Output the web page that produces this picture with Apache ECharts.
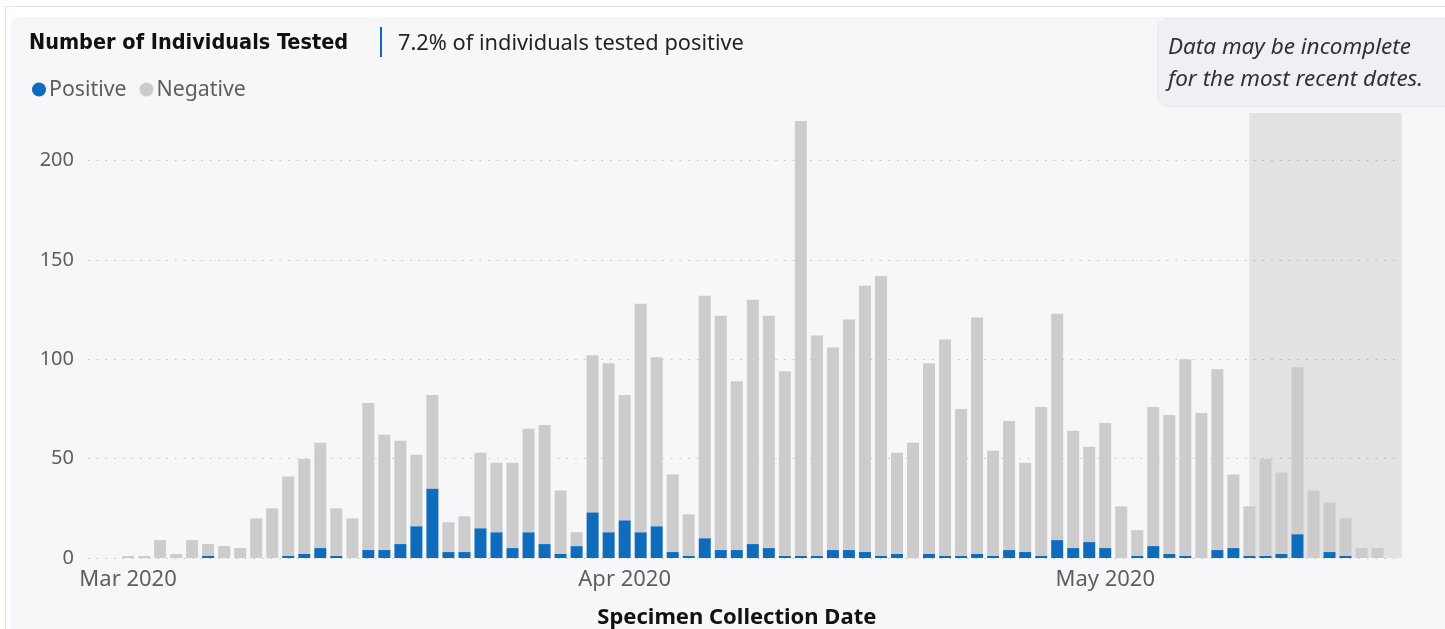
<!DOCTYPE html>
<html>
<head>
<meta charset="utf-8">
<script src="https://cdn.jsdelivr.net/npm/echarts@6/dist/echarts.min.js"></script>
<style>
  html, body { margin: 0; padding: 0; background: #ffffff; width: 1445px; height: 629px; overflow: hidden; }
  #frame { position: absolute; left: 5px; top: 6px; width: 1440px; height: 623px; border-left: 1px solid #e2e5ee; border-top: 1px solid #dfe3ee; }
  #panel { position: absolute; left: 11px; top: 17px; width: 1440px; height: 620px; background: #f7f7f9; border-radius: 8px; }
  #chart { position: absolute; left: 0; top: 0; width: 1445px; height: 629px; }
</style>
</head>
<body>
<div id="frame"></div>
<div id="panel"></div>
<div id="chart"></div>
<script>
// ---- data ----
const dates = [
  '2020-02-28','2020-02-29',
  '2020-03-01','2020-03-02','2020-03-03','2020-03-04','2020-03-05','2020-03-06','2020-03-07','2020-03-08','2020-03-09','2020-03-10',
  '2020-03-11','2020-03-12','2020-03-13','2020-03-14','2020-03-15','2020-03-16','2020-03-17','2020-03-18','2020-03-19','2020-03-20',
  '2020-03-21','2020-03-22','2020-03-23','2020-03-24','2020-03-25','2020-03-26','2020-03-27','2020-03-28','2020-03-29','2020-03-30','2020-03-31',
  '2020-04-01','2020-04-02','2020-04-03','2020-04-04','2020-04-05','2020-04-06','2020-04-07','2020-04-08','2020-04-09','2020-04-10',
  '2020-04-11','2020-04-12','2020-04-13','2020-04-14','2020-04-15','2020-04-16','2020-04-17','2020-04-18','2020-04-19','2020-04-20',
  '2020-04-21','2020-04-22','2020-04-23','2020-04-24','2020-04-25','2020-04-26','2020-04-27','2020-04-28','2020-04-29','2020-04-30',
  '2020-05-01','2020-05-02','2020-05-03','2020-05-04','2020-05-05','2020-05-06','2020-05-07','2020-05-08','2020-05-09','2020-05-10',
  '2020-05-11','2020-05-12','2020-05-13','2020-05-14','2020-05-15','2020-05-16','2020-05-17','2020-05-18','2020-05-19'
];
const positive = [
  null, null,
  0, 0, 0, 0, 0, 1, 0, 0, 0, 0,
  1, 2, 5, 1, 0, 4, 4, 7, 16, 35,
  3, 3, 15, 13, 5, 13, 7, 2, 6, 23, 13,
  19, 13, 16, 3, 1, 10, 4, 4, 7, 5,
  1, 1, 1, 4, 4, 3, 1, 2, 0, 2,
  1, 1, 2, 1, 4, 3, 1, 9, 5, 8,
  5, 0, 1, 6, 2, 1, 0, 4, 5, 1,
  1, 2, 12, 0, 3, 1, 0, 0, null
];
const negative = [
  null, null,
  1, 1, 9, 2, 9, 6, 6, 5, 20, 25,
  40, 48, 53, 24, 20, 74, 58, 52, 36, 47,
  15, 18, 38, 35, 43, 52, 60, 32, 7, 79, 85,
  63, 115, 85, 39, 21, 122, 118, 85, 123, 117,
  93, 219, 111, 102, 116, 134, 141, 51, 58, 96,
  109, 74, 119, 53, 65, 45, 75, 114, 59, 48,
  63, 26, 13, 70, 70, 99, 73, 91, 37, 25,
  49, 41, 84, 34, 25, 19, 5, 5, null
];
const yTicks = [0, 50, 100, 150, 200];
const monthNames = ['Jan','Feb','Mar','Apr','May','Jun','Jul','Aug','Sep','Oct','Nov','Dec'];
const incompleteFrom = '2020-05-10';
const titleText = 'Number of Individuals Tested';
const subtitleText = '7.2% of individuals tested positive';
const noteText = 'Data may be incomplete\nfor the most recent dates.';
const xAxisTitle = 'Specimen Collection Date';

const FONT = '"Noto Sans", "Open Sans", sans-serif';
const chart = echarts.init(document.getElementById('chart'), null, { renderer: 'canvas' });

const option = {
  backgroundColor: 'transparent',
  animation: false,
  textStyle: { fontFamily: FONT },
  title: [
    { text: titleText, left: 24, top: 27,
      textStyle: { fontFamily: '"DejaVu Sans Condensed", Roboto, sans-serif', fontWeight: 'bold', fontSize: 21.5, color: '#111111' } },
    { text: subtitleText, left: 393, top: 28,
      textStyle: { fontFamily: FONT, fontWeight: 'normal', fontSize: 21.8, color: '#252423' } }
  ],
  legend: {
    left: 27, top: 74, icon: 'circle', itemWidth: 14, itemHeight: 14, itemGap: 13,
    textStyle: { fontFamily: FONT, fontSize: 21.3, color: '#605e5c', padding: [0, 0, 0, -2] },
    data: ['Positive', 'Negative']
  },
  graphic: [
    { type: 'rect', left: 380, top: 27, shape: { width: 2, height: 30 }, style: { fill: '#1068c1' }, silent: true },
    { type: 'rect', left: 1157, top: 18, shape: { width: 300, height: 88, r: 10 }, style: { fill: '#f0f0f4', stroke: '#e9e9ef', lineWidth: 1 }, silent: true },
    { type: 'text', left: 1168, top: 32, silent: true,
      style: { text: noteText, font: 'italic 22.5px ' + FONT, fill: '#323130', lineHeight: 32 } }
  ],
  grid: { left: 88, right: 43.4, top: 113, bottom: 71, outerBoundsMode: 'none' },
  xAxis: {
    type: 'category',
    data: dates,
    axisLine: { show: false },
    axisTick: { show: false },
    axisLabel: {
      interval: (idx, val) => val.slice(8) === '01',
      formatter: (val) => monthNames[parseInt(val.slice(5, 7), 10) - 1] + ' ' + val.slice(0, 4),
      color: '#605e5c', fontSize: 22, fontFamily: FONT, margin: 11
    },
    name: xAxisTitle,
    nameLocation: 'middle',
    nameGap: 49,
    nameTextStyle: { fontFamily: FONT, fontWeight: 'bold', fontSize: 22, color: '#111111', padding: [0, 16, 0, 0] }
  },
  yAxis: {
    type: 'value',
    min: 0, max: 224, interval: 50,
    axisLine: { show: false },
    axisTick: { show: false },
    axisLabel: {
      showMaxLabel: false, color: '#605e5c', fontSize: 20, fontFamily: FONT, margin: 14,
      formatter: (v) => (yTicks.indexOf(v) >= 0 ? String(v) : '')
    },
    splitLine: { show: true, showMaxLine: false, lineStyle: { color: '#c4c4c4', width: 1.2, type: [1.5, 7.2] } }
  },
  series: [
    {
      name: 'Positive', type: 'bar', stack: 'total', data: positive, barWidth: 12,
      itemStyle: { color: '#0f6cbd' },
      markArea: {
        silent: true,
        itemStyle: { color: 'rgba(60,60,70,0.115)' },
        data: [[{ xAxis: incompleteFrom }, {}]]
      }
    },
    {
      name: 'Negative', type: 'bar', stack: 'total', data: negative, barWidth: 12,
      itemStyle: { color: '#cccccc' }
    }
  ]
};
chart.setOption(option);
</script>
</body>
</html>
